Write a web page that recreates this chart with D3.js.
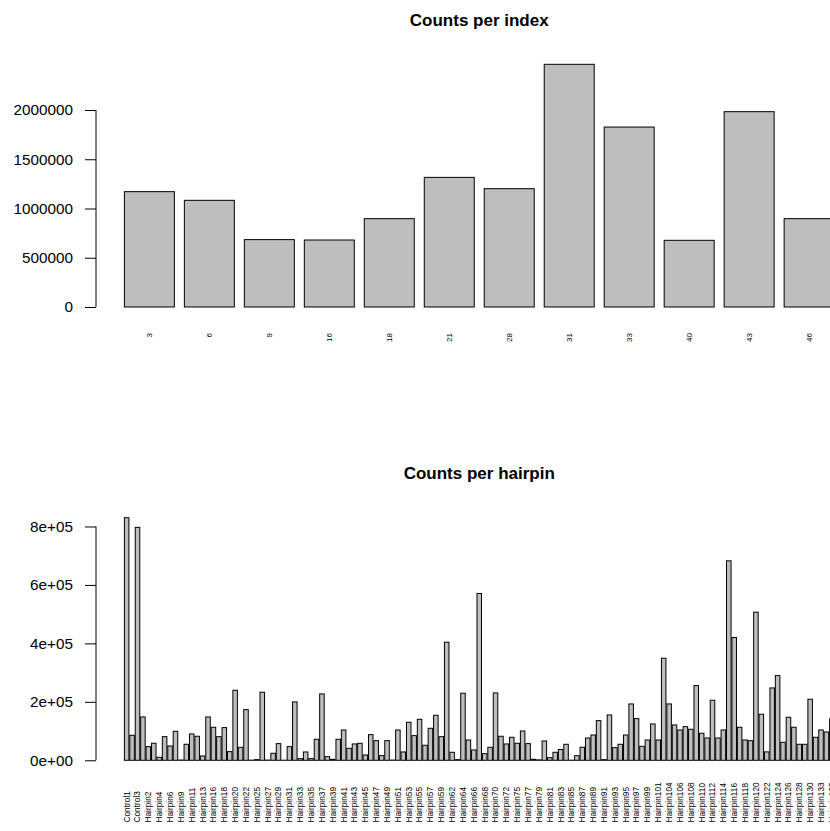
<!DOCTYPE html>
<html>
<head>
<meta charset="utf-8">
<script src="https://cdn.jsdelivr.net/npm/d3@7"></script>
<style>
  html, body { margin: 0; padding: 0; background: #fff; }
  svg { display: block; font-family: "Liberation Sans", Arial, Helvetica, sans-serif; }
</style>
</head>
<body>
<svg id="chart" width="830" height="831"></svg>
<script>
// Read counts per sequencing index
const indexNames = ["3", "6", "9", "16", "18", "21", "28", "31", "33", "40", "43", "46"];
const indexCounts = [1171000, 1083000, 684000, 680000, 897000, 1316000, 1201000, 2464000, 1827000, 677000, 1983000, 897000];
const indexTicks = [0, 500000, 1000000, 1500000, 2000000];

// Read counts per hairpin (controls first)
const hairpinNames = [
  "Control1", "Control2", "Control3",
  "Hairpin1", "Hairpin2", "Hairpin3", "Hairpin4", "Hairpin5", "Hairpin6", "Hairpin8", "Hairpin9",
  "Hairpin10", "Hairpin11", "Hairpin12", "Hairpin13", "Hairpin14", "Hairpin16", "Hairpin17", "Hairpin18",
  "Hairpin19", "Hairpin20", "Hairpin21", "Hairpin22", "Hairpin23", "Hairpin25", "Hairpin26", "Hairpin27",
  "Hairpin28", "Hairpin29", "Hairpin30", "Hairpin31", "Hairpin32", "Hairpin33", "Hairpin34", "Hairpin35",
  "Hairpin36", "Hairpin37", "Hairpin38", "Hairpin39", "Hairpin40", "Hairpin41", "Hairpin42", "Hairpin43",
  "Hairpin44", "Hairpin45", "Hairpin46", "Hairpin47", "Hairpin48", "Hairpin49", "Hairpin50", "Hairpin51",
  "Hairpin52", "Hairpin53", "Hairpin54", "Hairpin55", "Hairpin56", "Hairpin57", "Hairpin58", "Hairpin59",
  "Hairpin60", "Hairpin62", "Hairpin63", "Hairpin64", "Hairpin65", "Hairpin66", "Hairpin67", "Hairpin68",
  "Hairpin69", "Hairpin70", "Hairpin71", "Hairpin72", "Hairpin73", "Hairpin75", "Hairpin76", "Hairpin77",
  "Hairpin78", "Hairpin79", "Hairpin80", "Hairpin81", "Hairpin82", "Hairpin83", "Hairpin84", "Hairpin85",
  "Hairpin86", "Hairpin87", "Hairpin88", "Hairpin89", "Hairpin90", "Hairpin91", "Hairpin92", "Hairpin93",
  "Hairpin94", "Hairpin95", "Hairpin96", "Hairpin97", "Hairpin98", "Hairpin99", "Hairpin100", "Hairpin101",
  "Hairpin102", "Hairpin104", "Hairpin105", "Hairpin106", "Hairpin107", "Hairpin108", "Hairpin109", "Hairpin110",
  "Hairpin111", "Hairpin112", "Hairpin113", "Hairpin114", "Hairpin115", "Hairpin116", "Hairpin117", "Hairpin118",
  "Hairpin119", "Hairpin120", "Hairpin121", "Hairpin122", "Hairpin123", "Hairpin124", "Hairpin125", "Hairpin126",
  "Hairpin127", "Hairpin128", "Hairpin129", "Hairpin130", "Hairpin131", "Hairpin133", "Hairpin134", "Hairpin135"
];
const hairpinCounts = [
  830000, 85500, 797000,
  148300, 46700, 58200, 10300, 80900, 49000, 99200, 1000,
  54800, 90100, 82200, 14800, 148300, 113000, 80900, 111800,
  29600, 239700, 44500, 173400, 500, 2300, 232900, 800,
  24000, 57000, 300, 46700, 199700, 5600, 28500, 5600,
  71900, 227100, 12400, 3300, 71900, 103800, 41000, 55900,
  58200, 18200, 87800, 67200, 15900, 67200, 800, 103800,
  28500, 130000, 84400, 140300, 51400, 109500, 154000, 80900,
  404000, 27400, 2300, 229500, 69500, 35300, 570700, 22700,
  44500, 230500, 82200, 55900, 78700, 58200, 100300, 57000,
  3300, 1500, 66100, 9000, 27400, 37000, 54800, 500,
  15900, 44500, 76400, 86600, 135700, 2300, 155100, 43300,
  54800, 86600, 192800, 142600, 47900, 69500, 124300, 69500,
  349200, 192800, 120900, 103800, 115200, 106200, 255600, 92500,
  76400, 205400, 76400, 103800, 682500, 420000, 113000, 69500,
  67200, 506800, 157500, 28800, 247600, 289800, 61600, 147200,
  113000, 54800, 54800, 208900, 78700, 103800, 96900, 141400
];
const hairpinTicks = [0, 200000, 400000, 600000, 800000];
const hairpinTickLabels = ["0e+00", "2e+05", "4e+05", "6e+05", "8e+05"];

const svg = d3.select("#chart");
const plotLeft = 96, plotRight = 862.5;

// barplot-style panel: bars of width 1 separated by 0.2, axes padded by 4%
function barPanel(opts) {
  const n = opts.names.length;
  const xMin = 0.2, xMax = 1.2 * n;
  const xPad = 0.04 * (xMax - xMin);
  const x = d3.scaleLinear().domain([xMin - xPad, xMax + xPad]).range([plotLeft, plotRight]);
  const yMax = d3.max(opts.values);
  const y = d3.scaleLinear().domain([-0.04 * yMax, 1.04 * yMax]).range([opts.bottom, opts.top]);

  const g = svg.append("g");

  // title
  g.append("text")
    .attr("x", (plotLeft + plotRight) / 2)
    .attr("y", opts.titleY)
    .attr("text-anchor", "middle")
    .attr("font-weight", "bold")
    .attr("font-size", "17px")
    .text(opts.title);

  // bars
  g.append("g").selectAll("rect")
    .data(opts.values)
    .join("rect")
    .attr("x", (d, i) => x(0.2 + 1.2 * i))
    .attr("width", (d, i) => x(1.2 + 1.2 * i) - x(0.2 + 1.2 * i))
    .attr("y", d => y(d))
    .attr("height", d => y(0) - y(d))
    .attr("fill", "#bebebe")
    .attr("stroke", "#000")
    .attr("stroke-width", 1);

  // y axis: line spans first to last tick only
  const axis = d3.axisLeft(y)
    .tickValues(opts.ticks)
    .tickFormat((d, i) => opts.tickLabels[i])
    .tickSize(11)
    .tickSizeOuter(0)
    .tickPadding(12);
  const ag = g.append("g").attr("transform", `translate(${plotLeft},0)`).call(axis);
  ag.select(".domain").remove();
  ag.selectAll("text").attr("font-size", "15.3px").attr("fill", "#000").attr("font-family", null);
  ag.selectAll("line").attr("stroke", "#000");
  ag.append("line")
    .attr("x1", 0).attr("x2", 0)
    .attr("y1", y(opts.ticks[0])).attr("y2", y(opts.ticks[opts.ticks.length - 1]))
    .attr("stroke", "#000");

  // category labels, perpendicular to the axis
  g.append("g").selectAll("text")
    .data(opts.names.map((name, i) => ({ name, i })).filter(d => d.i % opts.labelStep === 0))
    .join("text")
    .attr("transform", d => `translate(${x(0.7 + 1.2 * d.i)},${opts.labelY}) rotate(-90)`)
    .attr("text-anchor", opts.labelAnchor)
    .attr("dy", "0.35em")
    .attr("font-size", opts.labelSize)
    .text(d => d.name);
}

barPanel({
  title: "Counts per index",
  titleY: 26,
  names: indexNames,
  values: indexCounts,
  ticks: indexTicks,
  tickLabels: indexTicks.map(String),
  top: 54.6,
  bottom: 316.7,
  labelY: 333,
  labelAnchor: "end",
  labelSize: "8px",
  labelStep: 1
});

barPanel({
  title: "Counts per hairpin",
  titleY: 479,
  names: hairpinNames,
  values: hairpinCounts,
  ticks: hairpinTicks,
  tickLabels: hairpinTickLabels,
  top: 508,
  bottom: 770,
  labelY: 822.5,
  labelAnchor: "start",
  labelSize: "8.3px",
  labelStep: 2
});
</script>
</body>
</html>
